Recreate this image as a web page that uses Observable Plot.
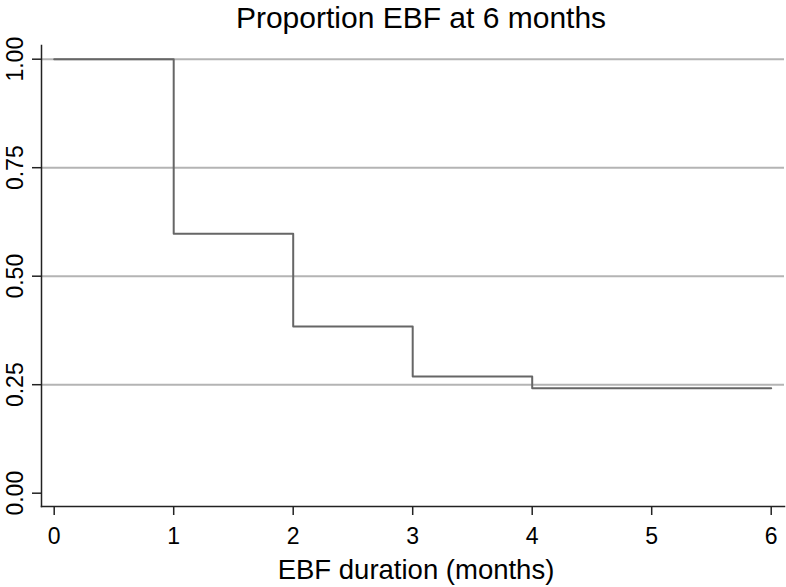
<!DOCTYPE html>
<html><head><meta charset="utf-8">
<script src="https://cdn.jsdelivr.net/npm/d3@7"></script>
<script src="https://cdn.jsdelivr.net/npm/@observablehq/plot@0.6"></script>
<style>
body{margin:0;background:#fff;}
#chart{width:786px;height:587px;}
</style></head><body><div id="chart"></div>
<script>
const times = [0, 1, 2, 3, 4, 6];
const survival = [1.0, 0.598, 0.384, 0.269, 0.242, 0.242];
const xTicks = [0, 1, 2, 3, 4, 5, 6];
const yTicks = [0, 0.25, 0.5, 0.75, 1];
const gridValues = [0.25, 0.5, 0.75, 1];
const titleText = "Proportion EBF at 6 months";
const xLabelText = "EBF duration (months)";

const data = times.map((t, i) => ({t, s: survival[i]}));

const chart = Plot.plot({
  width: 786,
  height: 587,
  marginLeft: 41,
  marginRight: 2,
  marginTop: 45,
  marginBottom: 81,
  style: {fontFamily: "'Liberation Sans', Arial, Helvetica, sans-serif", background: "#fff", color: "#000"},
  x: {domain: [0, 6], range: [53.7, 770.7]},
  y: {domain: [0, 1], range: [492.7, 58.7]},
  marks: [
    Plot.ruleY(gridValues, {stroke: "#b4b4b4", strokeWidth: 2}),
    Plot.line(data, {x: "t", y: "s", curve: "step-after", stroke: "#666", strokeWidth: 2}),
    Plot.frame({anchor: "left", stroke: "#222", strokeWidth: 1.5}),
    Plot.frame({anchor: "bottom", stroke: "#222", strokeWidth: 1.5}),
    Plot.axisY({ticks: yTicks, tickSize: 9, tickPadding: 10, tickRotate: -90, tickFormat: d3.format(".2f"),
      fontSize: 23, label: null, stroke: "#222", strokeWidth: 1.5, fill: "#000"}),
    Plot.axisX({ticks: xTicks, tickSize: 9, tickPadding: 12, tickFormat: d3.format("d"),
      fontSize: 23, label: null, stroke: "#222", strokeWidth: 1.5, fill: "#000"}),
    Plot.text([titleText], {frameAnchor: "top", dx: 8, dy: -18, lineAnchor: "bottom", fontSize: 30, fill: "#000"}),
    Plot.text([xLabelText], {frameAnchor: "bottom", dx: 3, dy: 72, lineAnchor: "bottom", fontSize: 27.5, fill: "#000"})
  ]
});
document.getElementById("chart").appendChild(chart);
</script>
</body></html>
